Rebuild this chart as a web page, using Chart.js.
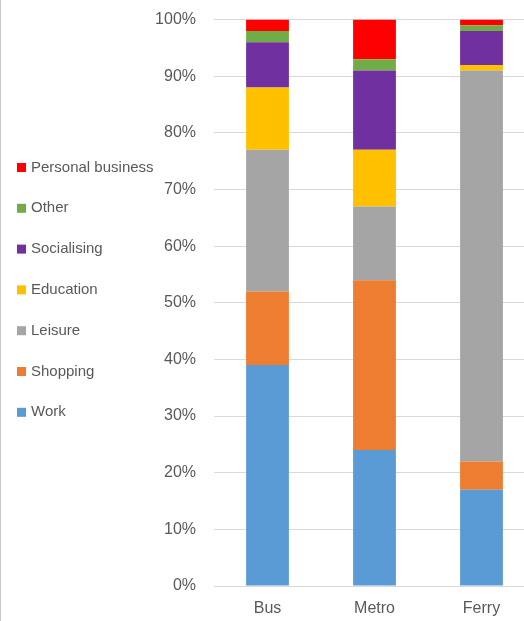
<!DOCTYPE html>
<html>
<head>
<meta charset="utf-8">
<script src="https://cdn.jsdelivr.net/npm/chart.js@4.4.0/dist/chart.umd.min.js"></script>
<style>
  html, body { margin: 0; padding: 0; background: #fff; overflow: hidden; }
  #wrap { position: relative; width: 545px; height: 630px; margin-top: -8.5px; }
  #edge { position: absolute; left: 0; top: 0; width: 1px; height: 621px; background: #c8c8c8; z-index: 2; }
</style>
</head>
<body>
<div id="edge"></div>
<div id="wrap"><canvas id="c"></canvas></div>
<script>
const categories = ['Bus', 'Metro', 'Ferry'];
const work        = [39, 24, 17];
const shopping    = [13, 30, 5];
const leisure     = [25, 13, 69];
const education   = [11, 10, 1];
const socialising = [8, 14, 6];
const other       = [2, 2, 1];
const personal    = [2, 7, 1];
const yTicks = [0, 10, 20, 30, 40, 50, 60, 70, 80, 90, 100];

const FONT = '"Liberation Sans", Arial, sans-serif';
const TXT = '#595959';

const legendPlugin = {
  id: 'leftLegend',
  afterDraw(chart) {
    const ctx = chart.ctx;
    const ds = chart.data.datasets.slice().reverse();
    ctx.save();
    ctx.font = '15px ' + FONT;
    ctx.textBaseline = 'middle';
    ds.forEach((d, i) => {
      const y = 8.5 + 167 + i * 40.8;
      ctx.fillStyle = d.backgroundColor;
      ctx.fillRect(17, y - 4.5, 9, 9);
      ctx.fillStyle = TXT;
      ctx.fillText(d.label, 31, y);
    });
    ctx.restore();
  }
};

new Chart(document.getElementById('c'), {
  type: 'bar',
  data: {
    labels: categories,
    datasets: [
      { label: 'Work', data: work, backgroundColor: '#5B9BD5' },
      { label: 'Shopping', data: shopping, backgroundColor: '#ED7D31' },
      { label: 'Leisure', data: leisure, backgroundColor: '#A5A5A5' },
      { label: 'Education', data: education, backgroundColor: '#FFC000' },
      { label: 'Socialising', data: socialising, backgroundColor: '#7030A0' },
      { label: 'Other', data: other, backgroundColor: '#70AD47' },
      { label: 'Personal business', data: personal, backgroundColor: '#FF0000' }
    ]
  },
  options: {
    responsive: true,
    maintainAspectRatio: false,
    animation: false,
    datasets: { bar: { categoryPercentage: 1, barPercentage: 0.4, borderWidth: 0 } },
    layout: { padding: { top: 9, left: 0, right: 10, bottom: 0 } },
    plugins: { legend: { display: false }, tooltip: { enabled: false } },
    scales: {
      x: {
        stacked: true,
        grid: { display: false, drawTicks: false },
        border: { display: true, color: '#d9d9d9', width: 1 },
        ticks: { color: TXT, font: { family: FONT, size: 16 }, padding: 13 },
        afterFit(s) { s.height = 36; }
      },
      y: {
        stacked: true,
        min: 0, max: 100,
        afterBuildTicks(s) { s.ticks = yTicks.map(v => ({ value: v })); },
        grid: { color: '#d9d9d9', lineWidth: 1, drawTicks: false },
        border: { display: false },
        ticks: { color: TXT, font: { family: FONT, size: 16 }, padding: 18, callback: v => v + '%' },
        afterFit(s) { s.width = 214; }
      }
    }
  },
  plugins: [legendPlugin]
});
</script>
</body>
</html>
